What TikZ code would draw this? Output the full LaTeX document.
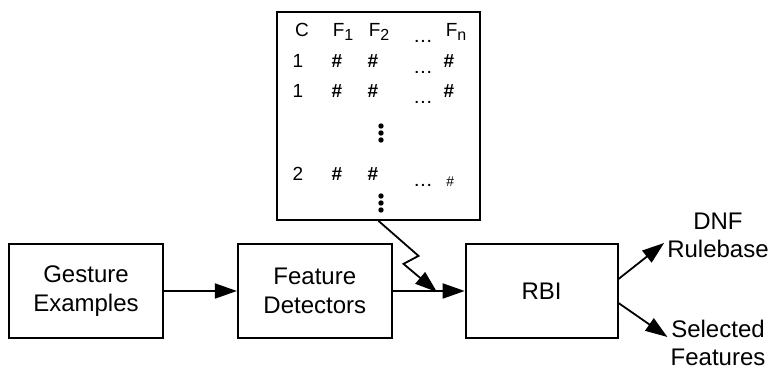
\documentclass[tikz,border=0pt]{standalone}
\usepackage{fontspec}
\setmainfont{Liberation Sans}
\usetikzlibrary{arrows.meta, positioning, calc}

\newcommand{\subidx}[1]{\raisebox{-4pt}{\fontsize{16}{16}\selectfont #1}}

\begin{document}
\begin{tikzpicture}[x=1pt, y=-1pt,
    node distance=73pt,
    blockbox/.style={draw, line width=1.8pt, minimum width=154pt, minimum height=94pt,
                     align=center, font=\fontsize{24}{29}\selectfont},
    cell/.style={inner sep=0pt, font=\fontsize{19}{22}\selectfont},
    gap/.style={inner sep=0pt, font=\fontsize{14}{15}\selectfont\bfseries},
    outlabel/.style={inner sep=0pt, align=center, font=\fontsize{24}{28}\selectfont},
    >={Triangle[length=22pt, width=15pt]}
]
\useasboundingbox (0,0) rectangle (777,371);

\node[blockbox] (ge) at (86,291) {Gesture\\Examples};
\node[blockbox, right=of ge] (fd) {Feature\\Detectors};
\node[blockbox, right=72pt of fd, minimum width=152pt] (rbi) {RBI};

% training table
\node[draw, line width=1.8pt, minimum width=203pt, minimum height=208pt, inner sep=0pt] (tab) at (378.5,116) {};
\node[cell] (hc) at (302,30) {C};
\node[cell] (h1) at (343,32) {F\subidx{1}};
\node[cell] (h2) at (379,32) {F\subidx{2}};
\node[gap] (hd) at (423,41) {.\,.\,.};
\node[cell] (hn) at (456,32) {F\subidx{n}};
\foreach \r/\y/\c in {a/61/1, b/91/1, c/174/2} {
  \node[cell] (c\r) at (298,\y) {\c};
  \node[cell] (x\r) at (337,\y) {\textbf{\#}};
  \node[cell] (y\r) at (373,\y) {\textbf{\#}};
  \node[gap] (d\r) at (423,\y+11) {.\,.\,.};
}
\node[cell] (za) at (449,61) {\textbf{\#}};
\node[cell] (zb) at (449,91) {\textbf{\#}};
\node[cell, font=\fontsize{14}{16}\selectfont\itshape] (zc) at (450,182) {\#};
\foreach \y in {126,196} {
  \foreach \k in {0,1,2}
    \fill (381,\y+7*\k) circle (2.7pt);
}

\node[outlabel] (dnf) at (718,235) {DNF\\Rulebase};
\node[outlabel] (sel) at (718,343) {Selected\\Features};
\coordinate (hit) at (437,292);

\draw[->, line width=1.8pt] (ge) -- (fd);
\draw[->, line width=1.8pt] (fd) -- (rbi);
\draw[->, line width=1.8pt] (tab.south) -- ++(40,35) -- ++(-15,8) -- (hit);
\draw[->, line width=1.8pt] ([yshift=12pt]rbi.east) -- ([xshift=-3pt, yshift=-8pt]dnf.west);
\draw[->, line width=1.8pt] ([yshift=-12pt]rbi.east) -- ([xshift=-3pt, yshift=6pt]sel.west);
\end{tikzpicture}
\end{document}
